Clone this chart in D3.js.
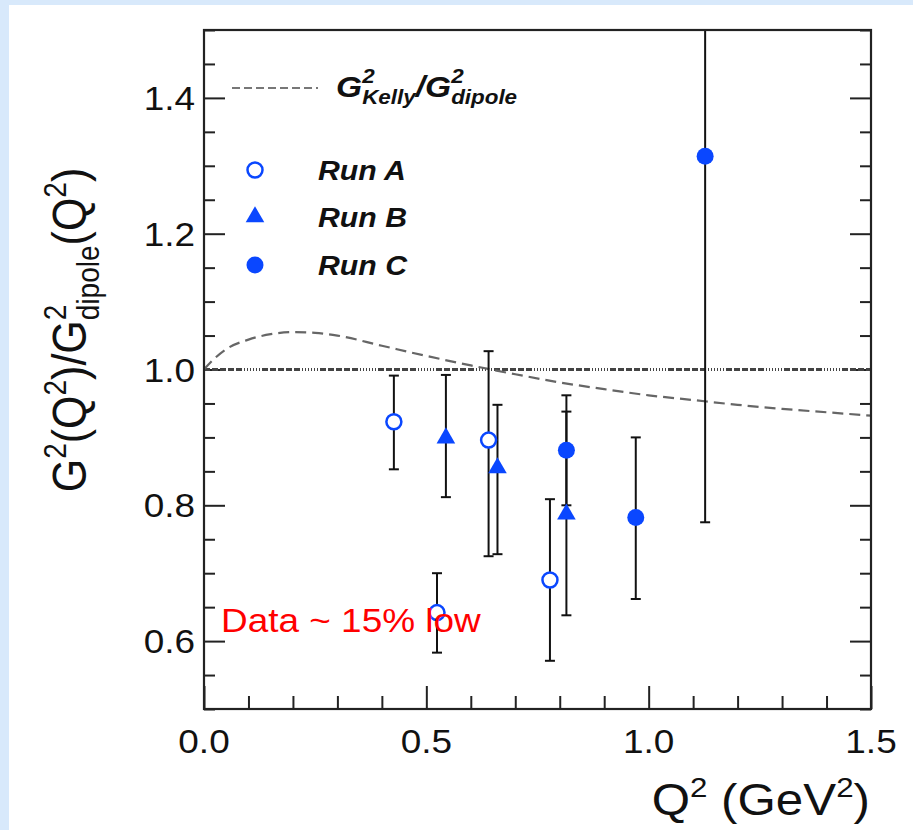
<!DOCTYPE html>
<html>
<head>
<meta charset="utf-8">
<script src="https://cdn.jsdelivr.net/npm/d3@7"></script>
<style>
  html, body { margin: 0; padding: 0; background: #d8e9fb; }
  svg { display: block; font-family: "Liberation Sans", Arial, Helvetica, sans-serif; }
  text { white-space: pre; }
</style>
</head>
<body>
<script>
// values
const runA_q2  = [0.427, 0.524, 0.640, 0.778];
const runA_val = [0.923, 0.642, 0.896, 0.690];
const runA_lo  = [0.853, 0.583, 0.725, 0.571];
const runA_hi  = [0.991, 0.700, 1.027, 0.809];

const runB_q2  = [0.544, 0.660, 0.815];
const runB_val = [0.899, 0.855, 0.787];
const runB_lo  = [0.812, 0.728, 0.638];
const runB_hi  = [0.992, 0.948, 0.938];

const runC_q2  = [0.815, 0.971, 1.127];
const runC_val = [0.881, 0.782, 1.314];
const runC_lo  = [0.800, 0.662, 0.775];
const runC_hi  = [0.962, 0.900, 1.853];

// Kelly / dipole ratio curve
const kelly_q2  = [0, 0.025, 0.05, 0.1, 0.15, 0.2, 0.25, 0.3, 0.4, 0.5, 0.6, 0.7, 0.8, 0.9, 1.0, 1.1, 1.2, 1.3, 1.4, 1.5];
const kelly_val = [1.0, 1.017, 1.03, 1.044, 1.052, 1.055, 1.054, 1.05, 1.035, 1.02, 1.006, 0.993, 0.981, 0.971, 0.962, 0.955, 0.948, 0.942, 0.937, 0.932];

const xMajor = [0, 0.5, 1.0, 1.5];
const yMajor = [0.6, 0.8, 1.0, 1.2, 1.4];

const width = 913, height = 830;
const plot = {left: 204, right: 871, top: 30, bottom: 709};
const blue = "#0a47ff";
const stretch = 1.12;   // the original picture is a bit wider than tall

let svg = d3.select("body").append("svg")
    .attr("width", width)
    .attr("height", height);

// white panel on the light blue page
svg.append("rect")
    .attr("x", 9).attr("y", 5)
    .attr("width", width - 9).attr("height", height - 5)
    .attr("fill", "#fff");

let x = d3.scaleLinear().domain([0, 1.5]).range([plot.left, plot.right]);
let y = d3.scaleLinear().domain([0.5, 1.5]).range([plot.bottom, plot.top]);

svg.append("clipPath").attr("id", "clip")
  .append("rect")
    .attr("x", plot.left).attr("y", plot.top)
    .attr("width", plot.right - plot.left).attr("height", plot.bottom - plot.top);

// ticks, pointing into the frame
function tickAxis(axis, g) {
    g.call(axis).call(s => s.select(".domain").remove())
     .selectAll("line").attr("stroke", "#222").attr("stroke-width", 2);
}
const yMinor = d3.range(0.5, 1.5001, 0.05).filter(v => !yMajor.some(m => Math.abs(m - v) < 1e-6));
const xMinor = d3.range(0, 1.5001, 0.1).filter(v => !xMajor.some(m => Math.abs(m - v) < 1e-6));

tickAxis(d3.axisRight(y).tickValues(yMajor).tickSize(21).tickFormat(""),
    svg.append("g").attr("transform", `translate(${plot.left},0)`));
tickAxis(d3.axisRight(y).tickValues(yMinor).tickSize(11).tickFormat(""),
    svg.append("g").attr("transform", `translate(${plot.left},0)`));
tickAxis(d3.axisLeft(y).tickValues(yMajor).tickSize(21).tickFormat(""),
    svg.append("g").attr("transform", `translate(${plot.right},0)`));
tickAxis(d3.axisLeft(y).tickValues(yMinor).tickSize(11).tickFormat(""),
    svg.append("g").attr("transform", `translate(${plot.right},0)`));
tickAxis(d3.axisTop(x).tickValues(xMajor).tickSize(23).tickFormat(""),
    svg.append("g").attr("transform", `translate(0,${plot.bottom})`));
tickAxis(d3.axisTop(x).tickValues(xMinor).tickSize(13).tickFormat(""),
    svg.append("g").attr("transform", `translate(0,${plot.bottom})`));

// tick labels (stretched a little to match the source)
svg.append("g").selectAll("text")
    .data(yMajor).enter().append("text")
    .attr("transform", d => `translate(195,${y(d) + 12}) scale(${stretch},1)`)
    .attr("text-anchor", "end")
    .attr("font-size", 33)
    .attr("fill", "#111")
    .text(d => d3.format(".1f")(d));

svg.append("g").selectAll("text")
    .data(xMajor).enter().append("text")
    .attr("transform", d => `translate(${x(d)},753) scale(${stretch},1)`)
    .attr("text-anchor", "middle")
    .attr("font-size", 33)
    .attr("fill", "#111")
    .text(d => d3.format(".1f")(d));

// text built from pieces: super/subscripts, stacked pairs
function richText(parent, px, py, parts, opts) {
    let g = parent.append("g");
    let inner = g.append("g");
    let cx = 0, lastX = 0;
    parts.forEach(p => {
        let sx = p.stack ? lastX : cx;
        let t = inner.append("text")
            .attr("x", sx)
            .attr("y", -(p.shift || 0))
            .attr("font-size", p.size)
            .attr("font-style", opts.italic ? "italic" : null)
            .attr("font-weight", opts.bold ? "bold" : null)
            .attr("fill", opts.fill || "#111")
            .text(p.t);
        let w = t.node().getComputedTextLength();
        if (p.stack) cx = Math.max(cx, sx + w);
        else { lastX = sx; cx = sx + w; }
    });
    let shift = opts.anchor === "end" ? -cx : opts.anchor === "middle" ? -cx / 2 : 0;
    inner.attr("transform", `translate(${shift},0)`);
    g.attr("transform", `translate(${px},${py}) scale(${stretch},1)` + (opts.rotate ? " rotate(-90)" : ""));
    return g;
}

// axis titles
richText(svg, 870, 815, [
    {t: "Q", size: 44}, {t: "2", size: 28, shift: 18},
    {t: "\u00a0(GeV", size: 44}, {t: "2", size: 28, shift: 18}, {t: ")", size: 44}
], {anchor: "end"});

richText(svg, 86, 330, [
    {t: "G", size: 43}, {t: "2", size: 28, shift: 18},
    {t: "(Q", size: 43}, {t: "2", size: 28, shift: 18}, {t: ")/G", size: 43},
    {t: "2", size: 28, shift: 18}, {t: "dipole", size: 28, shift: -12, stack: true},
    {t: "(Q", size: 43}, {t: "2", size: 28, shift: 18}, {t: ")", size: 43}
], {anchor: "middle", rotate: true});

let plotArea = svg.append("g").attr("clip-path", "url(#clip)");

// reference line at 1
plotArea.append("line")
    .attr("x1", x(0)).attr("x2", x(1.5))
    .attr("y1", y(1)).attr("y2", y(1))
    .attr("stroke", "#444").attr("stroke-width", 3)
    .attr("stroke-dasharray", "6,2,6,2,6,2,6,2,6,2,1,2,1,2,1,2,1,2,1,2,1,2");

// Kelly curve
let kelly = kelly_q2.map((q, i) => [q, kelly_val[i]]);
plotArea.append("path")
    .datum(kelly)
    .attr("fill", "none")
    .attr("stroke", "#666")
    .attr("stroke-width", 2.2)
    .attr("stroke-dasharray", "11,6")
    .attr("d", d3.line().x(d => x(d[0])).y(d => y(d[1])).curve(d3.curveMonotoneX));

// data with error bars
const runs = [
    {q2: runA_q2, val: runA_val, lo: runA_lo, hi: runA_hi, shape: "open"},
    {q2: runB_q2, val: runB_val, lo: runB_lo, hi: runB_hi, shape: "triangle"},
    {q2: runC_q2, val: runC_val, lo: runC_lo, hi: runC_hi, shape: "filled"}
];

runs.forEach(r => {
    let pts = r.q2.map((q, i) => ({q: q, v: r.val[i], lo: r.lo[i], hi: r.hi[i]}));
    let eb = plotArea.append("g").attr("stroke", "#111").attr("stroke-width", 2);
    eb.selectAll(".bar").data(pts).enter().append("line")
        .attr("x1", d => x(d.q)).attr("x2", d => x(d.q))
        .attr("y1", d => y(d.lo)).attr("y2", d => y(d.hi));
    eb.selectAll(".capLo").data(pts).enter().append("line")
        .attr("x1", d => x(d.q) - 5).attr("x2", d => x(d.q) + 5)
        .attr("y1", d => y(d.lo)).attr("y2", d => y(d.lo));
    eb.selectAll(".capHi").data(pts).enter().append("line")
        .attr("x1", d => x(d.q) - 5).attr("x2", d => x(d.q) + 5)
        .attr("y1", d => y(d.hi)).attr("y2", d => y(d.hi));
});

function marker(sel, shape) {
    if (shape === "open") {
        sel.append("circle").attr("r", 7.5)
            .attr("fill", "#fff").attr("stroke", blue).attr("stroke-width", 2.5);
    } else if (shape === "filled") {
        sel.append("circle").attr("r", 8.5).attr("fill", blue);
    } else {
        sel.append("path").attr("d", d3.symbol(d3.symbolTriangle, 150)).attr("fill", blue);
    }
}

runs.forEach(r => {
    svg.append("g").selectAll("g")
        .data(r.q2.map((q, i) => [q, r.val[i]]))
        .enter().append("g")
        .attr("transform", d => `translate(${x(d[0])},${y(d[1])})`)
        .each(function() { marker(d3.select(this), r.shape); });
});

// frame
svg.append("rect")
    .attr("x", plot.left).attr("y", plot.top)
    .attr("width", plot.right - plot.left).attr("height", plot.bottom - plot.top)
    .attr("fill", "none").attr("stroke", "#222").attr("stroke-width", 2.2);

// legend
svg.append("line")
    .attr("x1", 232).attr("x2", 318).attr("y1", 88).attr("y2", 88)
    .attr("stroke", "#777").attr("stroke-width", 2).attr("stroke-dasharray", "8,4");
richText(svg, 336, 97, [
    {t: "G", size: 30}, {t: "2", size: 20, shift: 14},
    {t: "Kelly", size: 20, shift: -7, stack: true},
    {t: "/G", size: 30}, {t: "2", size: 20, shift: 14},
    {t: "dipole", size: 20, shift: -7, stack: true}
], {italic: true, bold: true});

const legendNames = ["Run A", "Run B", "Run C"];
const legendY = [170, 217, 265];
legendNames.forEach((name, i) => {
    let g = svg.append("g").attr("transform", `translate(255,${legendY[i]})`);
    marker(g, runs[i].shape);
    svg.append("text")
        .attr("transform", `translate(318,${legendY[i] + 10}) scale(${stretch},1)`)
        .attr("font-size", 27).attr("font-style", "italic").attr("font-weight", "bold")
        .attr("fill", "#111")
        .text(name);
});

// annotation
svg.append("text")
    .attr("transform", `translate(221,632) scale(${stretch},1)`)
    .attr("font-size", 33)
    .attr("fill", "#ff0000")
    .text("Data ~ 15% low");
</script>
</body>
</html>
